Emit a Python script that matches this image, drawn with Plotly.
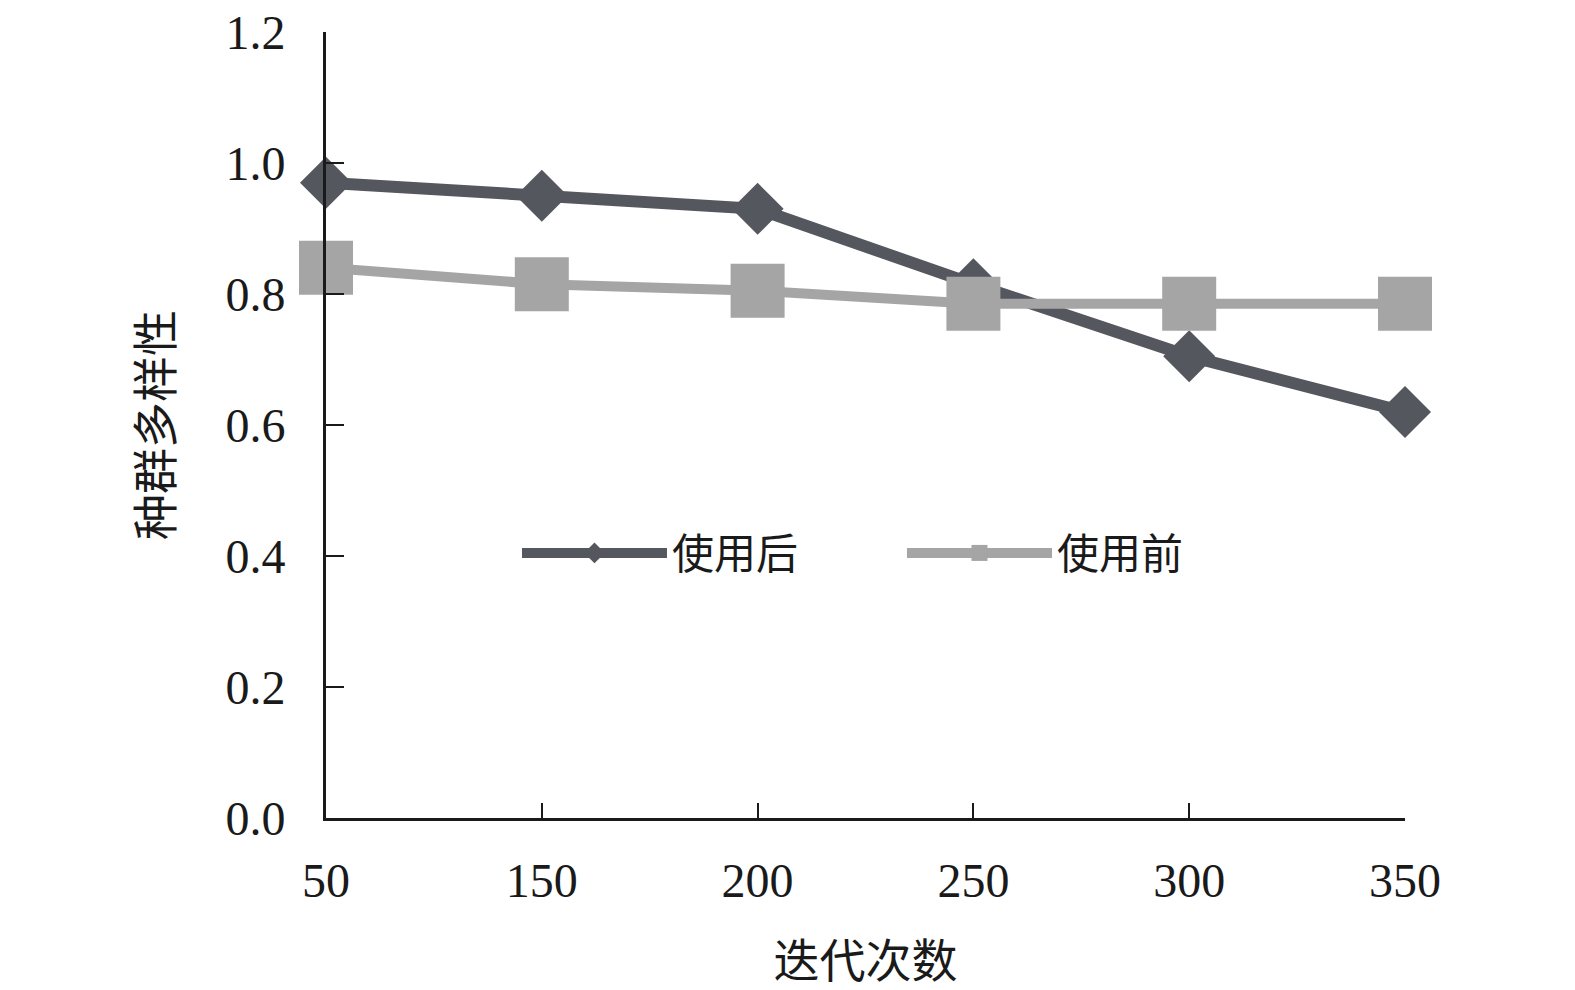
import plotly.graph_objects as go

# 迭代次数 (categorical, equally spaced)
iterations = ["50", "150", "200", "250", "300", "350"]
after_use = [0.97, 0.95, 0.93, 0.815, 0.705, 0.62]      # 使用后
before_use = [0.84, 0.815, 0.805, 0.785, 0.785, 0.785]  # 使用前
y_ticks = [0.0, 0.2, 0.4, 0.6, 0.8, 1.0, 1.2]

DARK = "#54575e"
LIGHT = "#a5a5a5"
NUM_FONT = "Liberation Serif, Noto Sans CJK SC"
CJK_FONT = "Noto Sans CJK SC, Liberation Serif"

pos = list(range(len(iterations)))

fig = go.Figure()
fig.add_trace(go.Scatter(
    x=pos, y=after_use, name="使用后", mode="lines+markers",
    line=dict(color=DARK, width=12),
    marker=dict(symbol="diamond", size=40, color=DARK),
    cliponaxis=False,
))
fig.add_trace(go.Scatter(
    x=pos, y=before_use, name="使用前", mode="lines+markers",
    line=dict(color=LIGHT, width=10),
    marker=dict(symbol="square", size=54, color=LIGHT),
    cliponaxis=False,
))

# page body has an 8px margin, so the figure is a bit smaller than the window
fig.update_layout(
    width=1567, height=982,
    margin=dict(l=318, r=170, t=24, b=172),
    plot_bgcolor="white", paper_bgcolor="white",
    font=dict(family=NUM_FONT, size=48, color="#1a1a1a"),
    showlegend=True,
    legend=dict(
        orientation="h", x=0.177, y=0.337, xanchor="left", yanchor="middle",
        font=dict(family=CJK_FONT, size=42, color="#1a1a1a"),
        bgcolor="rgba(0,0,0,0)", itemwidth=145,
        entrywidth=225, entrywidthmode="pixels",
    ),
)

fig.update_xaxes(
    range=[0, len(iterations) - 1], automargin=False,
    tickmode="array", tickvals=pos, ticktext=iterations,
    ticks="inside", ticklen=15, tickwidth=2, tickcolor="#1a1a1a",
    showline=True, linecolor="#1a1a1a", linewidth=3,
    showgrid=False, zeroline=False,
    ticklabelstandoff=18, ticklabeloverflow="allow",
    tickfont=dict(family=NUM_FONT, size=48),
    title=dict(text="迭代次数", font=dict(family=CJK_FONT, size=46), standoff=55),
)
fig.update_yaxes(
    range=[0, 1.2], automargin=False,
    tickmode="array", tickvals=y_ticks, tickformat=".1f",
    ticks="inside", ticklen=18, tickwidth=2, tickcolor="#1a1a1a",
    showline=True, linecolor="#1a1a1a", linewidth=3,
    showgrid=False, zeroline=False,
    ticklabelstandoff=28, ticklabeloverflow="allow",
    tickfont=dict(family=NUM_FONT, size=48),
    title=dict(text="种群多样性", font=dict(family=CJK_FONT, size=46), standoff=39),
)

fig.write_html("out.html")
